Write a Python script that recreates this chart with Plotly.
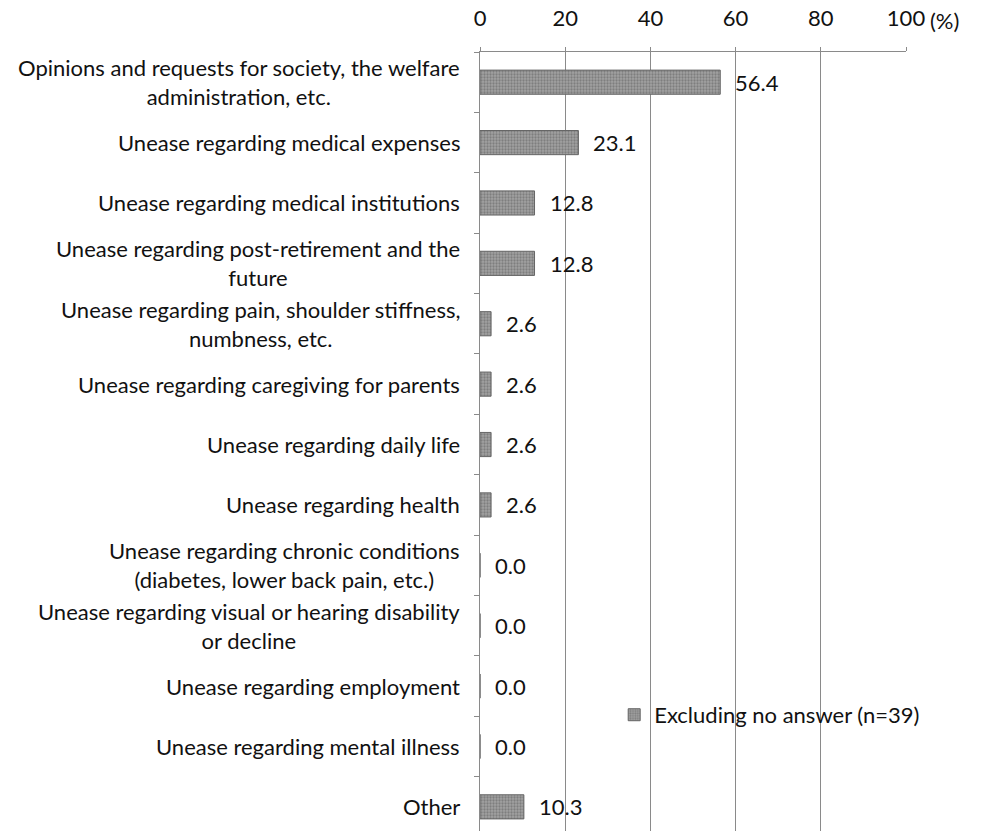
import plotly.graph_objects as go

categories = [
    "Opinions and requests for society, the welfare<br>administration, etc.",
    "Unease regarding medical expenses",
    "Unease regarding medical institutions",
    "Unease regarding post-retirement and the<br>future",
    "Unease regarding pain, shoulder stiffness,<br>numbness, etc.",
    "Unease regarding caregiving for parents",
    "Unease regarding daily life",
    "Unease regarding health",
    "Unease regarding chronic conditions<br>(diabetes, lower back pain, etc.)",
    "Unease regarding visual or hearing disability<br>or decline",
    "Unease regarding employment",
    "Unease regarding mental illness",
    "Other",
]
values = [56.4, 23.1, 12.8, 12.8, 2.6, 2.6, 2.6, 2.6, 0.0, 0.0, 0.0, 0.0, 10.3]
series_name = "Excluding no answer (n=39)"
x_ticks = [0, 20, 40, 60, 80, 100]

FONT = "Lato"
FS = 22

fig = go.Figure()
fig.add_trace(go.Bar(
    y=list(range(len(categories))),
    x=values,
    orientation="h",
    name=series_name,
    width=0.4,
    marker=dict(
        color="#8e8e8e",
        line=dict(color="#666666", width=1),
        pattern=dict(shape=".", fgcolor="#5a5a5a", bgcolor="#a2a2a2", size=3, solidity=0.45),
    ),
    showlegend=True,
))

annotations = []
for i, (c, v) in enumerate(zip(categories, values)):
    annotations.append(dict(
        x=0, xref="paper", y=i, yref="y", text=c, showarrow=False,
        xanchor="right", yanchor="middle", align="center", xshift=-18,
        font=dict(family=FONT, size=FS, color="#111"),
    ))
    annotations.append(dict(
        x=v, xref="x", y=i, yref="y", text=f"{v:.1f}", showarrow=False,
        xanchor="left", yanchor="middle", xshift=13,
        font=dict(family=FONT, size=FS, color="#111"),
    ))
annotations.append(dict(
    x=100, xref="x", y=1, yref="paper", yshift=32, text="(%)", showarrow=False,
    xanchor="left", yanchor="middle", xshift=22,
    font=dict(family=FONT, size=FS, color="#111"),
))

fig.update_layout(
    width=996, height=831,
    margin=dict(l=480, r=90, t=52, b=0),
    paper_bgcolor="white", plot_bgcolor="white",
    font=dict(family=FONT, size=FS, color="#111"),
    annotations=annotations,
    legend=dict(
        x=0.315, y=0.149, xanchor="left", yanchor="middle",
        bgcolor="rgba(0,0,0,0)", font=dict(family=FONT, size=FS, color="#111"),
        itemwidth=30,
    ),
    xaxis=dict(
        side="top", range=[0, 100], tickvals=x_ticks, ticktext=[str(t) for t in x_ticks],
        showgrid=True, gridcolor="#8a8a8a", gridwidth=1,
        showline=True, linecolor="#8a8a8a", linewidth=1,
        ticks="outside", ticklen=4, tickcolor="#8a8a8a",
        ticklabelstandoff=12,
        zeroline=False, fixedrange=True,
        tickfont=dict(family=FONT, size=FS, color="#111"),
    ),
    yaxis=dict(
        range=[12.4, -0.5], tickmode="array",
        tickvals=[i - 0.5 for i in range(len(categories))], ticktext=["" for _ in categories],
        showgrid=False, showline=True, linecolor="#8a8a8a", linewidth=1,
        ticks="outside", ticklen=5, tickcolor="#8a8a8a",
        zeroline=False, fixedrange=True,
    ),
    bargap=0.6,
)

fig.write_html("out.html")
